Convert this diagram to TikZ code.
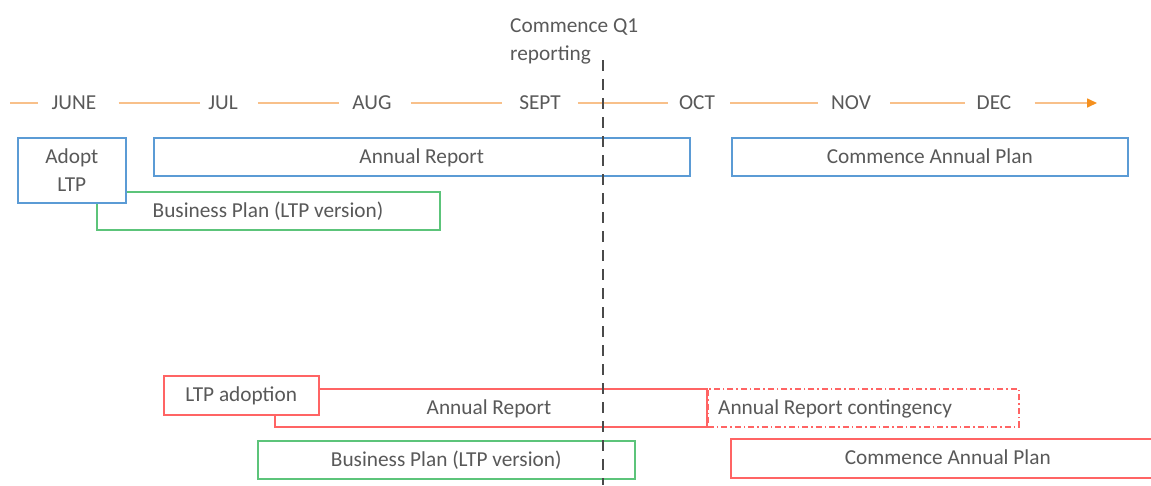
\documentclass[tikz,border=0pt]{standalone}
\usepackage{fontspec}
\setmainfont{Carlito}
\usetikzlibrary{arrows.meta}
\definecolor{txt}{HTML}{595959}
\definecolor{bl}{HTML}{5B9BD5}
\definecolor{gr}{HTML}{5CC47A}
\definecolor{rd}{HTML}{FF6464}
\definecolor{orl}{HTML}{F8C08A}
\definecolor{ord}{HTML}{F5901E}
\definecolor{dk}{HTML}{4A4A4A}
\tikzset{
  bx/.style={draw=#1, line width=1.5pt, fill=white, inner sep=0pt, anchor=north west, text=txt},
  lbl/.style={text=txt, inner sep=0pt, text height=1.45em, text depth=0.2em},
  month/.style={inner sep=0pt, text=txt},
  seg/.style={draw=orl, line width=1.6pt},
}
\begin{document}
\begin{tikzpicture}[x=1pt,y=-1pt,font=\fontsize{21.3}{28}\selectfont]
\useasboundingbox (0,0) rectangle (1151,485);
% timeline
\coordinate (t0) at (10,103);
\coordinate (tend) at (1097,103);
\node[month] (jun) at (74,103) {JUNE};
\node[month] (jul) at (223,103) {JUL};
\node[month] (aug) at (372,103) {AUG};
\node[month] (sep) at (540,103) {SEPT};
\node[month] (oct) at (697,103) {OCT};
\node[month] (nov) at (851,103) {NOV};
\node[month] (dec) at (994,103) {DEC};
\draw[seg, shorten >=13pt] (t0) -- (jun.west);
\draw[seg, shorten <=22pt, shorten >=8pt] (jun.east) -- (jul.west);
\draw[seg, shorten <=20pt, shorten >=13pt] (jul.east) -- (aug.west);
\draw[seg, shorten <=19pt, shorten >=17pt] (aug.east) -- (sep.west);
\draw[seg, shorten <=17pt, shorten >=11pt] (sep.east) -- (oct.west);
\draw[seg, shorten <=15pt, shorten >=13pt] (oct.east) -- (nov.west);
\draw[seg, shorten <=19pt, shorten >=12pt] (nov.east) -- (dec.west);
\draw[seg, shorten <=23pt, -{Triangle[length=10pt,width=9pt,color=ord,fill=ord]}] (dec.east) -- (tend);
% top row
\node[bx=gr, minimum width=343, minimum height=38] (bp1) at (96,191) {};
\node[lbl] (bp1t) at (268,211) {Business Plan (LTP version)};
\node[bx=bl, minimum width=108, minimum height=65, align=center] (adopt) at (17,137) {Adopt\\LTP};
\node[bx=bl, minimum width=536, minimum height=38, lbl, anchor=north west] (ar1) at (153,137) {Annual Report};
\node[bx=bl, minimum width=396, minimum height=38, lbl, anchor=north west] (cap1) at (731,137) {Commence Annual Plan};
% bottom row
\node[bx=rd, dash pattern=on 6pt off 3pt on 1.5pt off 3pt, minimum width=311, minimum height=38] (cont) at (707,388) {};
\node[lbl, anchor=west] (contt) at (718,408) {Annual Report contingency};
\node[bx=rd, minimum width=432, minimum height=38] (ar2) at (274,388) {};
\node[lbl] (ar2t) at (489,408) {Annual Report};
\node[bx=rd, minimum width=155, minimum height=39, lbl, anchor=north west] (ltpa) at (163,375) {LTP adoption};
\node[bx=gr, minimum width=377, minimum height=38, lbl, anchor=north west] (bp2) at (257,440) {Business Plan (LTP version)};
\node[bx=rd, minimum width=434, minimum height=39, lbl, anchor=north west] (cap2) at (730,438) {Commence Annual Plan};
% Q1 marker
\node[text=txt, inner sep=0pt, align=left, anchor=north west] (q1) at (510,18) {Commence Q1\\reporting};
\coordinate (vtop) at (603,60);
\coordinate (vbot) at (603,485);
\draw[dk, line width=2.6pt, dash pattern=on 11pt off 8pt] (vtop) -- (vbot);
\end{tikzpicture}
\end{document}
